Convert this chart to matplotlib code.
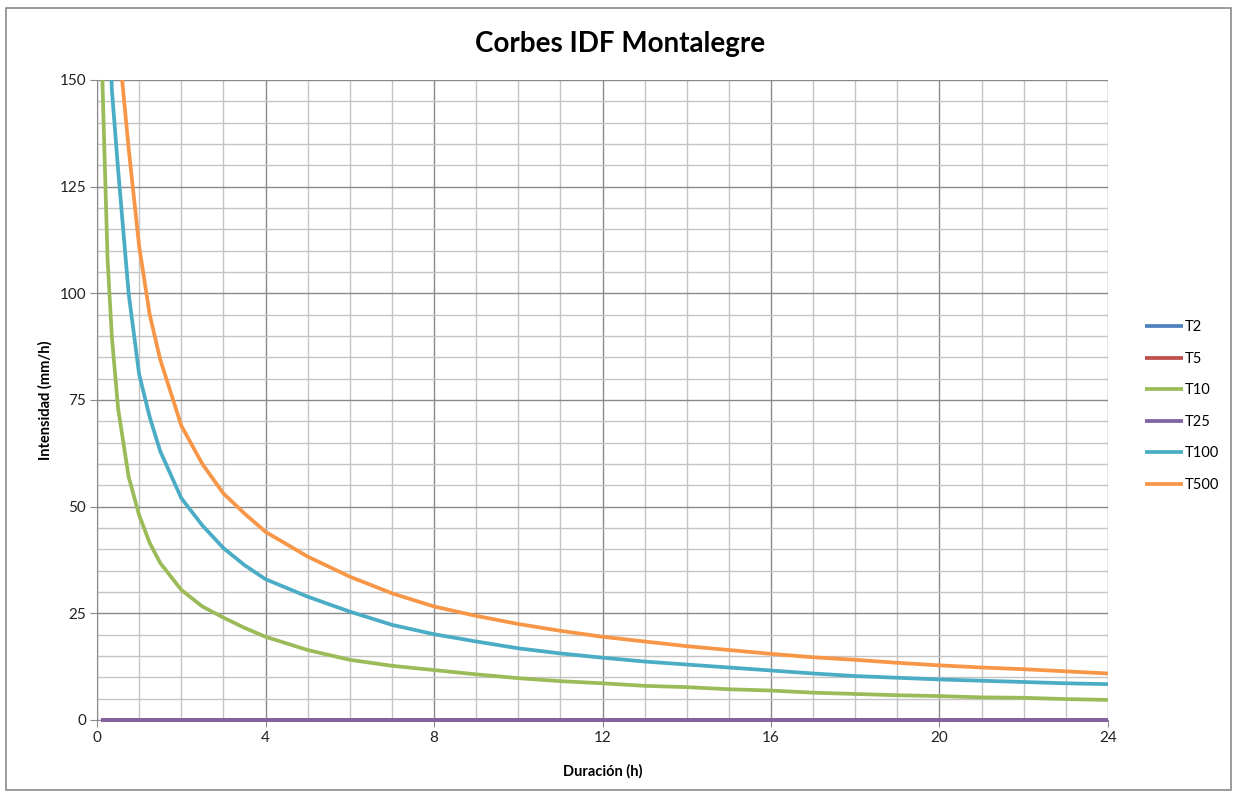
import matplotlib
matplotlib.use('Agg')
import matplotlib.pyplot as plt
from matplotlib.patches import Rectangle
from matplotlib.ticker import MultipleLocator

plt.rcParams['font.family'] = ['Lato', 'DejaVu Sans']

# durations (h) and intensities (mm/h)
durations = [0.1, 0.15, 0.25, 0.35, 0.5, 0.75, 1, 1.25, 1.5, 2, 2.5, 3, 3.5, 4,
             5, 6, 7, 8, 9, 10, 11, 12, 13, 14, 15, 16, 17, 18, 19, 20, 21, 22, 23, 24]
t2 = [0] * len(durations)
t5 = [0] * len(durations)
t25 = [0] * len(durations)
t10 = [160, 142, 108, 90, 73, 57, 48, 41.5, 36.8, 30.5, 26.6, 24.0, 21.6, 19.5,
       16.4, 14.1, 12.7, 11.7, 10.7, 9.8, 9.1, 8.6, 8.0, 7.7, 7.2, 6.9, 6.4, 6.1, 5.8, 5.6, 5.3, 5.2, 4.9, 4.7]
t100 = [290, 240, 185, 148, 129, 100, 81, 71, 63, 52, 45.6, 40.3, 36.3, 33.0,
        28.9, 25.4, 22.3, 20.1, 18.4, 16.8, 15.6, 14.6, 13.7, 13.0, 12.3, 11.6, 10.9, 10.3, 9.9, 9.5, 9.2, 8.9, 8.6, 8.4]
t500 = [380, 320, 240, 195, 160, 134, 111, 95, 84.5, 69, 60, 53.1, 48.4, 44.1,
        38.3, 33.6, 29.7, 26.6, 24.4, 22.5, 20.9, 19.5, 18.4, 17.3, 16.4, 15.5, 14.7, 14.1, 13.4, 12.8, 12.3, 11.9, 11.4, 10.9]

series = [('T2', t2, '#4F81BD'), ('T5', t5, '#C0504D'), ('T10', t10, '#9BBB59'),
          ('T25', t25, '#8064A2'), ('T100', t100, '#4BACC6'), ('T500', t500, '#F79646')]

fig = plt.figure(figsize=(12.33, 7.96), dpi=100)
ax = fig.add_axes([0.0787, 0.0955, 0.8199, 0.804])

for name, vals, col in series:
    zero = max(vals) == 0
    ax.plot(durations, vals, color=col, lw=2.7, label=name, clip_on=not zero,
            solid_capstyle='butt', solid_joinstyle='round', zorder=3)

ax.set_xlim(0, 24)
ax.set_ylim(0, 150)
ax.xaxis.set_major_locator(MultipleLocator(4))
ax.xaxis.set_minor_locator(MultipleLocator(1))
ax.yaxis.set_major_locator(MultipleLocator(25))
ax.yaxis.set_minor_locator(MultipleLocator(5))
ax.grid(which='major', color='#8a8a8a', lw=1.0, zorder=1)
ax.grid(which='minor', color='#c4c4c4', lw=1.0, zorder=0)
ax.tick_params(which='major', direction='out', length=5, color='#8a8a8a',
               labelsize=11, labelcolor='#222222', pad=3)
ax.tick_params(which='minor', length=0)
for s in ['top', 'right']:
    ax.spines[s].set_visible(False)
for s in ['left', 'bottom']:
    ax.spines[s].set_color('#8a8a8a')

ax.set_xlabel('Duración (h)', fontsize=10.5, fontweight='bold', labelpad=14)
ax.set_ylabel('Intensidad (mm/h)', fontsize=10.5, fontweight='bold', labelpad=5)
fig.text(0.503, 0.945, 'Corbes IDF Montalegre', fontsize=20, fontweight='bold',
         ha='center', va='center')

ax.legend(loc='center left', bbox_to_anchor=(0.918, 0.49), bbox_transform=fig.transFigure,
          frameon=False, fontsize=10.5, handlelength=2.6, handletextpad=0.15,
          labelspacing=1.2)

fig.patches.append(Rectangle((0.005, 0.007), 0.993, 0.983, transform=fig.transFigure,
                             fill=False, edgecolor='#8a8a8a', lw=1.2))

fig.savefig('out.png', dpi=100)
